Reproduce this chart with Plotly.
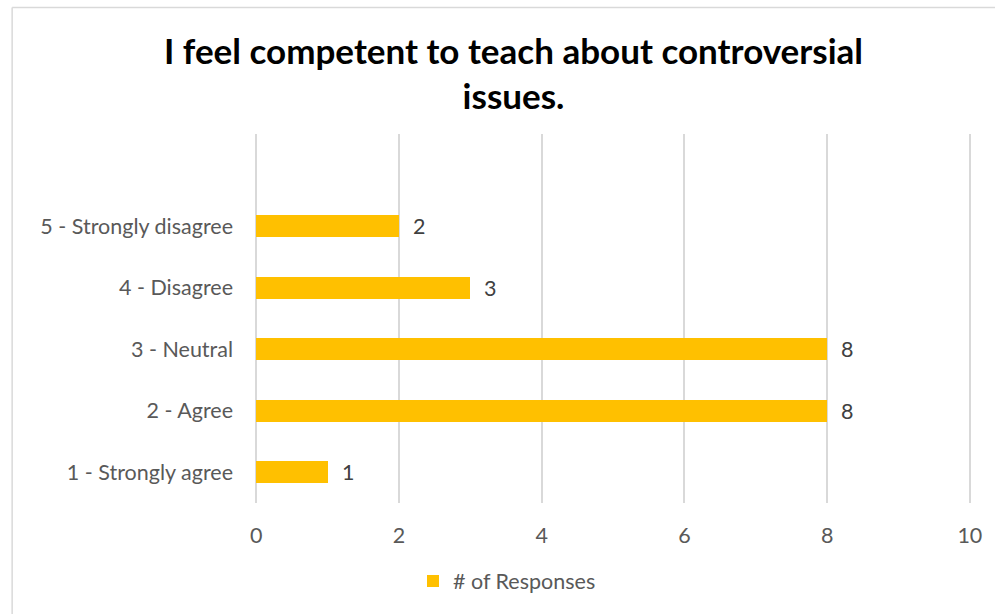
import plotly.graph_objects as go

categories = ["1 - Strongly agree", "2 - Agree", "3 - Neutral", "4 - Disagree", "5 - Strongly disagree"]
values = [1, 8, 8, 3, 2]
positions = [1, 2, 3, 4, 5]
x_ticks = [0, 2, 4, 6, 8, 10]
series_name = "# of Responses"
title_text = "I feel competent to teach about controversial<br>issues."

W, H = 995, 614
PAD = 0.03
UNIT = (970.0 - 255.7) / 10
L, R, T, B = 255.7 - PAD * UNIT, 970.0 + PAD * UNIT, 134.0, 503.0
FS = 21.5

fig = go.Figure()
fig.add_trace(go.Bar(
    y=positions, x=values, orientation="h", name=series_name,
    marker=dict(color="#FFC000", line=dict(width=0)),
    width=0.36,
    text=["\u00a0\u00a0" + str(v) for v in values],
    textposition="outside",
    constraintext="none",
    textfont=dict(family="Lato", size=FS, color="#404040"),
    cliponaxis=False,
))

def px_to_paper_x(px):
    return (px - L) / (R - L)

def px_to_paper_y(py):
    return (B - py) / (B - T)

fig.add_shape(type="line", xref="paper", yref="paper",
              x0=px_to_paper_x(11.5), x1=px_to_paper_x(1000),
              y0=px_to_paper_y(7.5), y1=px_to_paper_y(7.5),
              line=dict(color="#D9D9D9", width=1.5))
fig.add_shape(type="line", xref="paper", yref="paper",
              x0=px_to_paper_x(11.5), x1=px_to_paper_x(11.5),
              y0=px_to_paper_y(7.5), y1=px_to_paper_y(620),
              line=dict(color="#D9D9D9", width=1.5))

fig.update_layout(
    width=W, height=H,
    margin=dict(l=L, r=W - R, t=T, b=H - B, pad=0),
    paper_bgcolor="white", plot_bgcolor="white",
    title=dict(text=title_text, xref="container", yref="container",
               x=513.5 / W, y=1 - 63.5 / H, xanchor="center", yanchor="middle",
               font=dict(family="Lato", size=35, color="#000000", weight="bold")),
    showlegend=True,
    legend=dict(orientation="h", xref="container", yref="container",
                x=507 / W, y=1 - 581 / H, xanchor="center", yanchor="middle",
                font=dict(family="Lato", size=FS, color="#595959")),
    bargap=0,
)
fig.update_xaxes(range=[-PAD, 10 + PAD], tickvals=x_ticks, ticktext=[str(t) for t in x_ticks],
                 showgrid=True, gridcolor="#D9D9D9", gridwidth=1.5, zeroline=False,
                 showline=False, ticks="", ticklabelstandoff=17,
                 tickfont=dict(family="Lato", size=FS, color="#595959"))
fig.update_yaxes(range=[0.5, 6.5], tickvals=positions, ticktext=categories,
                 showgrid=False, zeroline=False, showline=False, ticks="",
                 ticklabelstandoff=20,
                 tickfont=dict(family="Lato", size=FS, color="#595959"))

fig.write_html("out.html")
